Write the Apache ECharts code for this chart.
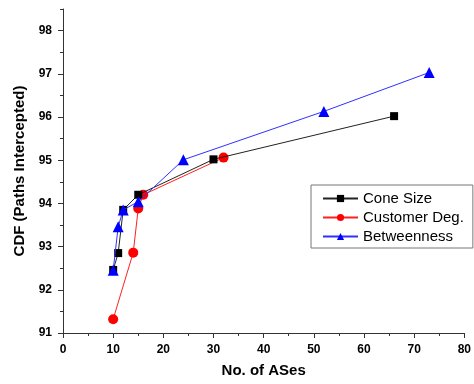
<!DOCTYPE html>
<html>
<head>
<meta charset="utf-8">
<script src="https://cdn.jsdelivr.net/npm/echarts@6/dist/echarts.min.js"></script>
<style>
  html, body { margin: 0; padding: 0; background: #fff; }
  #chart { width: 474px; height: 384px; }
</style>
</head>
<body>
<div id="chart"></div>
<script>
// Share of intercepted paths versus number of selected ASes, per ranking metric
const coneSize = [[10, 92.46], [11, 92.85], [12, 93.85], [15, 94.2], [30, 95.02], [66, 96.02]];
const customerDeg = [[10, 91.32], [14, 92.86], [15, 93.88], [16, 94.2], [32, 95.06]];
const betweenness = [[10, 92.45], [11, 93.46], [12, 93.85], [15, 94.04], [24, 95.01], [52, 96.13], [73, 97.03]];
const yMajorTicks = [91, 92, 93, 94, 95, 96, 97, 98];

const FONT = '"Liberation Sans", Arial, sans-serif';
const AXIS_COLOR = '#333';

const chart = echarts.init(document.getElementById('chart'), null, { renderer: 'canvas' });

const labelStyle = { color: '#000', fontFamily: FONT, fontWeight: 'bold', fontSize: 12 };

chart.setOption({
  animation: false,
  backgroundColor: '#fff',
  grid: { left: 63, right: 9, top: 9, bottom: 51 },
  xAxis: {
    type: 'value', min: 0, max: 80, interval: 10,
    name: 'No. of ASes', nameLocation: 'middle', nameGap: 30,
    nameTextStyle: { color: '#000', fontFamily: FONT, fontWeight: 'bold', fontSize: 15 },
    axisLine: { show: true, onZero: false, lineStyle: { color: AXIS_COLOR, width: 1 } },
    axisTick: { show: true, inside: false, length: 5, lineStyle: { color: AXIS_COLOR } },
    minorTick: { show: true, splitNumber: 2, length: 3, lineStyle: { color: AXIS_COLOR } },
    axisLabel: Object.assign({ margin: 11 }, labelStyle),
    splitLine: { show: false }
  },
  yAxis: [
    {
      type: 'value', min: 91, max: 98.5, interval: 1,
      name: 'CDF (Paths Intercepted)', nameLocation: 'middle', nameGap: 33,
      nameTextStyle: { color: '#000', fontFamily: FONT, fontWeight: 'bold', fontSize: 15 },
      axisLine: { show: true, onZero: false, lineStyle: { color: AXIS_COLOR, width: 1 } },
      axisTick: { show: true, inside: false, length: 5, customValues: yMajorTicks, lineStyle: { color: AXIS_COLOR } },
      axisLabel: Object.assign({ margin: 11, customValues: yMajorTicks }, labelStyle),
      splitLine: { show: false }
    },
    {
      // half-step ticks along the same left edge
      type: 'value', min: 91, max: 98.5, interval: 0.5, position: 'left',
      axisLine: { show: false },
      axisTick: { show: true, inside: false, length: 3, lineStyle: { color: AXIS_COLOR } },
      axisLabel: { show: false },
      splitLine: { show: false }
    }
  ],
  legend: {
    orient: 'vertical', left: 311, top: 185,
    backgroundColor: '#fff', borderColor: '#777', borderWidth: 1,
    padding: [5, 9, 3, 11], itemGap: 2, itemWidth: 35, itemHeight: 9,
    textStyle: { color: '#000', fontFamily: FONT, fontSize: 15, lineHeight: 17 },
    data: ['Cone Size', 'Customer Deg.', 'Betweenness']
  },
  series: [
    {
      name: 'Cone Size', type: 'line', data: coneSize, z: 3,
      symbol: 'rect', symbolSize: 8,
      lineStyle: { color: '#222', width: 1 },
      itemStyle: { color: '#000' }
    },
    {
      name: 'Customer Deg.', type: 'line', data: customerDeg, z: 2,
      symbol: 'circle', symbolSize: 10,
      lineStyle: { color: '#ff2020', width: 1 },
      itemStyle: { color: '#ff0000' }
    },
    {
      name: 'Betweenness', type: 'line', data: betweenness, z: 4,
      symbol: 'triangle', symbolSize: 11,
      lineStyle: { color: '#3030ff', width: 1 },
      itemStyle: { color: '#0000ff' }
    }
  ]
});
</script>
</body>
</html>
